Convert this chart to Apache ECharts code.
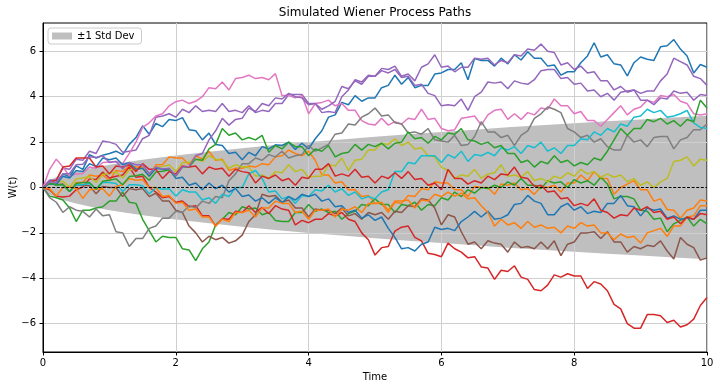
<!DOCTYPE html>
<html><head><meta charset="utf-8">
<script src="https://cdn.jsdelivr.net/npm/echarts/dist/echarts.min.js"></script>
<style>html,body{margin:0;padding:0;background:#fff}#c{width:720px;height:390px}</style>
</head><body><div id="c"></div>
<script>
const TIME = [
0,0.1,0.2,0.3,0.4,0.5,0.6,0.7,0.8,0.9,
1,1.1,1.2,1.3,1.4,1.5,1.6,1.7,1.8,1.9,
2,2.1,2.2,2.3,2.4,2.5,2.6,2.7,2.8,2.9,
3,3.1,3.2,3.3,3.4,3.5,3.6,3.7,3.8,3.9,
4,4.1,4.2,4.3,4.4,4.5,4.6,4.7,4.8,4.9,
5,5.1,5.2,5.3,5.4,5.5,5.6,5.7,5.8,5.9,
6,6.1,6.2,6.3,6.4,6.5,6.6,6.7,6.8,6.9,
7,7.1,7.2,7.3,7.4,7.5,7.6,7.7,7.8,7.9,
8,8.1,8.2,8.3,8.4,8.5,8.6,8.7,8.8,8.9,
9,9.1,9.2,9.3,9.4,9.5,9.6,9.7,9.8,9.9,
10];
const BAND_T  = [0,0.05,0.1,0.2,0.3,0.5,0.75,1,1.5,2,2.5,3,3.5,4,4.5,5,5.5,6,6.5,7,7.5,8,8.5,9,9.5,10];
const BAND_UP = [0,0.22,0.32,0.45,0.55,0.71,0.87,1.0,1.22,1.41,1.58,1.73,1.87,2.0,2.12,2.24,2.35,2.45,2.55,2.65,2.74,2.83,2.92,3.0,3.08,3.16];
const BAND_LO = [0,-0.22,-0.32,-0.45,-0.55,-0.71,-0.87,-1.0,-1.22,-1.41,-1.58,-1.73,-1.87,-2.0,-2.12,-2.24,-2.35,-2.45,-2.55,-2.65,-2.74,-2.83,-2.92,-3.0,-3.08,-3.16];
const Y_TICKS = [-6,-4,-2,0,2,4,6];
const ZERO_LEVEL = 0;

const P0 = [
0,0.3,0.18,0.6,0.48,0.95,0.8,1.45,1.3,1.42,
1.5,1.6,1.45,1.9,2.2,2.72,2.35,2.82,2.68,3.0,
2.95,3.08,2.55,2.5,2.1,2.4,1.9,1.85,1.5,1.55,
1.22,1.55,1.4,1.8,1.7,1.88,1.85,2.0,1.68,1.95,
1.7,2.15,2.5,3.1,3.2,3.75,3.65,4.05,3.8,3.95,
3.95,4.4,4.5,4.95,4.55,4.85,4.4,4.5,4.5,5.0,
5.05,5.2,5.2,5.5,4.75,5.68,5.6,5.6,5.35,5.7,
5.45,5.85,5.62,5.98,5.7,5.7,5.35,5.4,4.95,5.1,
5.1,5.5,5.8,6.38,5.75,5.85,5.45,5.4,4.92,5.5,
5.75,5.65,5.6,6.2,6.25,6.52,6.1,5.8,5.05,5.42,
5.3];
const P1 = [
0,0.22,0.12,0.12,-0.18,0.22,0.22,0.55,0.5,0.55,
0.3,0.75,0.7,0.95,0.9,0.9,0.5,1.0,1.0,1.35,
1.3,1.3,1.0,1.4,1.25,1.6,1.2,1.25,0.75,0.85,
0.85,0.95,0.9,1.05,1.0,1.35,1.4,1.65,1.5,1.4,
1.6,1.2,0.55,0.55,0.2,0.25,-0.1,-0.1,-0.4,-0.35,
-0.7,-0.7,-1.1,-0.65,-0.7,-0.35,-0.4,-0.05,-0.1,0.25,
0.2,0.2,-0.1,-0.1,-0.4,0.05,0.0,0.0,-0.3,0.15,
0.1,0.2,-0.1,-0.05,-0.3,0.05,0.0,0.1,-0.2,0.2,
0.2,0.55,0.3,0.7,0.4,0.4,-0.3,0.0,0.15,0.3,
-0.1,-0.1,-0.6,-0.5,-0.97,-1.0,-1.35,-1.0,-0.9,-0.55,
-0.6];
const P2 = [
0,-0.38,-0.45,-0.55,-0.9,-1.5,-1.0,-1.0,-0.9,-0.85,
-0.6,-0.6,-0.2,-0.65,-0.7,-1.4,-1.9,-2.4,-2.15,-2.2,
-2.2,-2.7,-2.75,-3.22,-2.7,-2.4,-1.65,-1.4,-1.1,-1.2,
-0.85,-0.95,-0.9,-1.2,-1.1,-1.45,-1.5,-1.5,-1.1,-1.1,
-0.75,-1.05,-0.95,-1.1,-1.05,-1.4,-1.15,-1.05,-0.75,-0.8,
-0.5,-0.75,-0.75,-1.1,-0.75,-0.8,-0.65,-1.0,-0.75,-0.8,
-0.45,-0.55,-0.2,-0.4,-0.1,-0.25,0.0,-0.05,0.1,0.0,
0.25,0.1,0.4,0.1,0.1,-0.05,0.3,0.2,0.25,0.0,
0.35,0.2,0.3,0.1,0.45,0.15,-0.5,-0.4,-0.4,-0.5,
-1.0,-1.05,-1.4,-1.35,-1.95,-1.6,-1.45,-1.3,-1.7,-1.4,
-1.6];
const P3 = [
0,-0.1,-0.38,-0.42,-0.38,-0.1,0.02,0.38,0.35,0.68,
0.42,0.5,0.55,0.9,0.45,0.5,0.0,-0.2,-0.45,-0.4,
-0.65,-0.6,-0.85,-0.8,-1.25,-1.25,-1.7,-1.38,-1.4,-1.05,
-1.1,-0.8,-1.1,-0.88,-1.15,-0.8,-0.95,-1.0,-1.65,-1.45,
-1.55,-1.4,-1.4,-1.15,-1.25,-1.1,-1.4,-1.5,-2.0,-2.3,
-2.98,-2.65,-2.6,-1.92,-1.75,-1.7,-2.2,-2.35,-2.9,-2.95,
-3.05,-2.45,-2.7,-2.85,-3.1,-3.05,-3.5,-3.55,-4.05,-3.65,
-3.7,-3.45,-3.95,-4.05,-4.5,-4.55,-4.3,-3.85,-3.95,-3.8,
-3.9,-3.9,-4.45,-4.15,-4.25,-4.55,-5.15,-5.35,-6.0,-6.2,
-6.2,-5.6,-5.6,-5.65,-5.95,-5.85,-6.15,-6.05,-5.8,-5.2,
-4.85];
const P4 = [
0,0.33,0.32,0.85,0.8,1.25,1.2,1.6,1.5,2.05,
2.0,1.9,1.55,1.6,1.65,2.15,2.3,3.1,3.15,3.25,
3.1,3.45,3.3,3.6,3.35,3.4,3.35,3.7,3.35,3.4,
3.3,3.6,3.3,3.4,3.35,3.7,3.7,4.1,4.1,4.1,
3.7,3.7,3.3,3.35,3.3,4.0,4.3,4.75,4.65,4.95,
4.9,5.25,5.2,5.35,4.9,5.0,4.7,5.3,5.45,5.85,
5.3,5.35,5.1,5.3,5.3,5.7,5.65,5.7,5.4,5.6,
5.5,5.85,5.8,6.1,6.05,6.32,6.0,5.95,5.4,5.5,
5.2,5.35,5.05,5.1,4.7,4.7,4.3,4.45,4.2,4.3,
4.15,4.25,4.25,4.7,5.0,5.7,5.55,5.4,4.9,4.8,
4.5];
const P5 = [
0,0.18,0.12,0.15,-0.18,0.12,0.1,0.08,-0.28,0.05,
0.0,0.0,-0.4,-0.05,-0.1,-0.05,-0.4,-0.25,-0.6,-0.6,
-1.0,-1.1,-1.7,-2.0,-2.4,-2.15,-2.3,-2.2,-2.45,-2.35,
-2.1,-1.5,-1.2,-0.3,-0.4,-0.35,-0.65,-0.55,-0.9,-0.9,
-1.3,-0.95,-1.0,-1.0,-1.15,-0.9,-1.25,-1.15,-1.4,-1.1,
-1.2,-1.1,-1.4,-1.05,-1.1,-0.8,-0.85,-0.5,-0.55,-0.9,
-1.65,-1.2,-1.3,-1.95,-2.5,-2.4,-2.7,-2.35,-2.45,-2.5,
-2.85,-2.4,-2.65,-2.6,-2.7,-2.4,-2.7,-2.35,-3.0,-2.5,
-2.4,-2.0,-2.0,-1.95,-2.25,-1.95,-2.4,-2.4,-2.85,-2.6,
-2.7,-2.55,-2.6,-2.35,-2.8,-3.15,-2.2,-2.5,-2.65,-3.2,
-3.1];
const P6 = [
0,0.8,1.25,0.9,0.5,0.6,0.62,0.9,0.85,1.1,
1.12,1.15,1.05,1.5,2.0,2.65,2.85,3.15,3.25,3.6,
3.78,3.85,3.7,3.8,4.0,4.4,4.35,4.65,4.3,4.8,
4.85,4.95,4.8,4.85,4.75,5.02,4.05,4.05,3.95,4.05,
3.25,3.7,3.75,3.85,3.6,3.7,3.4,3.4,2.95,2.8,
2.75,3.05,2.75,2.9,2.8,3.05,3.0,3.45,3.0,3.05,
2.6,2.5,2.55,3.05,3.1,3.15,2.75,3.2,3.4,3.45,
3.0,3.25,3.0,3.3,3.2,3.5,3.45,3.9,3.6,3.6,
3.25,3.35,2.95,2.95,2.7,3.0,3.3,3.6,3.2,3.45,
3.55,3.85,3.75,4.05,4.0,4.1,3.8,3.7,3.25,3.2,
3.25];
const P7 = [
0,-0.45,-0.65,-1.1,-0.85,-1.0,-1.05,-1.3,-0.95,-1.25,
-1.2,-1.95,-2.0,-2.6,-2.25,-2.25,-1.8,-1.7,-1.35,-1.35,
-1.05,-1.1,-0.8,-0.9,-0.6,-0.7,-0.4,-0.45,0.3,0.6,
1.05,1.05,1.3,1.2,1.45,1.35,1.6,1.3,1.4,1.45,
1.85,1.6,1.75,1.9,2.35,2.4,2.8,2.75,3.1,3.25,
3.5,3.15,3.2,2.85,2.8,2.4,2.45,2.35,2.6,2.1,
2.05,2.0,2.3,1.85,1.9,2.25,2.9,2.45,2.45,2.2,
2.3,1.85,2.3,2.5,3.05,3.25,3.55,3.45,3.3,2.6,
2.45,2.2,2.3,2.0,2.15,1.8,1.65,1.65,2.3,2.0,
2.1,1.8,2.2,2.25,2.25,1.7,2.1,2.2,2.55,2.55,
2.8];
const P8 = [
0,0.22,0.22,0.28,0.02,0.38,0.42,0.48,0.22,0.58,
0.62,0.68,0.42,0.78,0.82,0.85,0.5,0.9,0.92,1.0,
0.7,1.1,1.1,1.25,1.15,1.4,1.25,1.2,0.85,1.0,
0.9,0.9,0.5,0.55,0.4,0.7,0.65,1.0,0.7,0.8,
0.45,0.5,0.5,1.0,0.95,1.3,0.75,1.2,1.25,1.65,
1.65,1.95,1.9,2.15,1.85,2.0,1.7,1.75,1.4,1.35,
0.9,0.75,0.4,0.55,0.5,0.8,0.4,0.6,0.65,1.0,
0.5,0.55,0.45,0.7,0.3,0.4,0.25,0.5,0.4,0.65,
0.5,0.8,0.6,0.7,0.45,0.6,0.45,0.55,0.25,0.4,
0.1,0.25,0.0,0.25,0.4,1.15,1.2,1.35,0.95,1.25,
1.2];
const P9 = [
0,0.18,0.12,0.12,-0.18,0.12,0.12,0.18,-0.08,0.22,
0.22,0.18,-0.18,0.12,0.12,0.08,-0.28,0.0,-0.08,-0.05,
-0.38,-0.1,-0.2,-0.2,-0.55,-0.45,-0.7,-0.3,-0.4,0.0,
0.0,0.6,0.75,0.4,-0.2,-0.15,-0.5,-0.4,-0.7,-0.35,
-0.4,-0.1,-0.15,0.1,-0.2,-0.05,-0.35,-0.2,-0.5,-0.4,
-0.5,-0.2,-0.1,0.7,0.7,1.1,1.05,1.4,1.4,1.4,
1.1,1.45,1.3,1.6,1.15,1.45,1.4,1.55,1.4,1.75,
1.65,1.8,1.5,1.85,1.75,2.0,1.6,1.75,1.5,1.85,
1.85,2.15,2.1,2.45,2.3,2.6,2.45,2.8,2.7,3.1,
3.15,3.45,3.3,3.4,3.1,3.15,3.25,3.4,2.85,2.65,
2.6];
const P10 = [
0,0.18,0.12,0.5,0.42,0.75,0.7,1.05,0.92,1.3,
1.22,1.3,1.0,1.1,0.8,0.85,0.5,0.85,0.8,0.8,
0.4,0.45,0.1,0.2,-0.1,0.2,-0.05,0.1,-0.2,-0.05,
-0.4,-0.33,-0.6,-0.45,-0.7,-0.45,-0.67,-0.4,-0.55,-0.3,
-0.4,-0.3,-0.6,-0.5,-0.85,-0.8,-1.1,-1.0,-1.35,-1.2,
-1.45,-1.3,-1.8,-2.2,-2.7,-2.65,-2.8,-2.5,-2.4,-1.75,
-1.85,-1.8,-1.9,-1.5,-1.3,-1.05,-1.3,-1.05,-1.4,-1.35,
-1.2,-0.75,-0.7,-0.35,-0.6,-0.7,-1.2,-1.2,-0.85,-0.7,
-1.0,-0.85,-1.15,-1.05,-1.1,-0.7,-0.7,-0.35,-0.8,-0.85,
-1.25,-0.9,-1.0,-0.95,-1.35,-1.25,-1.4,-1.35,-1.4,-1.0,
-1.0];
const P11 = [
0,-0.05,-0.38,0.0,0.02,-0.05,-0.48,-0.1,-0.08,-0.05,
-0.38,0.05,0.12,0.4,0.32,0.35,0.0,0.0,-0.4,-0.35,
-0.7,-0.65,-1.0,-0.95,-1.3,-1.3,-1.7,-1.4,-1.5,-1.1,
-1.1,-1.0,-1.3,-0.9,-0.9,-0.6,-0.7,-0.7,-1.1,-1.05,
-1.4,-1.0,-1.0,-0.95,-1.3,-0.95,-1.0,-0.85,-1.1,-0.7,
-0.7,-0.65,-1.0,-0.6,-0.6,-0.55,-0.9,-0.55,-0.6,-0.3,
-0.4,-0.2,-0.38,-0.25,-0.5,-0.45,-0.8,-1.1,-1.7,-1.4,
-1.65,-1.55,-1.8,-1.5,-1.75,-1.65,-1.8,-1.75,-2.0,-1.7,
-1.8,-1.55,-1.7,-1.65,-2.0,-2.0,-2.3,-2.05,-2.2,-2.15,
-2.45,-2.0,-1.9,-1.8,-2.15,-1.7,-1.7,-1.3,-1.25,-0.8,
-0.8];
const P12 = [
0,0.18,0.12,0.12,-0.18,0.18,0.22,0.22,-0.08,0.28,
0.32,0.38,0.12,0.48,0.52,0.58,0.32,0.68,0.72,0.78,
0.5,0.9,0.9,1.25,1.2,1.7,1.9,2.6,2.3,2.4,
2.1,2.2,2.1,2.3,1.55,1.85,1.7,2.0,1.8,1.8,
1.4,1.7,1.6,1.85,1.35,1.5,1.55,1.9,1.65,1.9,
1.8,1.95,1.7,1.95,2.0,2.45,2.15,2.2,1.95,2.25,
2.1,2.4,2.35,2.6,2.1,2.05,1.9,2.0,1.75,1.85,
1.5,1.5,1.1,1.2,0.9,1.15,1.05,1.4,1.1,1.2,
0.95,1.1,1.0,1.3,1.2,1.6,2.1,2.6,2.3,2.6,
2.6,3.0,2.9,3.05,2.8,2.95,2.7,3.0,2.9,3.85,
3.5];
const P13 = [
0,0.25,0.32,0.9,0.95,1.3,1.3,1.3,0.9,0.95,
0.6,0.95,0.9,1.0,0.7,1.05,0.8,0.8,0.4,0.7,
0.6,0.95,0.9,0.95,0.6,0.9,0.8,0.85,0.5,0.8,
0.7,0.65,0.2,0.5,0.4,0.55,0.3,0.4,0.1,0.45,
0.4,0.8,0.8,1.05,0.5,0.6,0.5,0.8,0.45,0.5,
0.2,0.5,0.4,0.65,0.4,0.7,0.35,0.4,0.1,0.2,
-0.1,0.8,0.4,0.4,0.15,0.3,0.2,0.5,0.35,0.6,
0.55,0.9,0.45,0.4,0.05,0.1,-0.2,-0.15,-0.5,-0.45,
-0.8,-0.7,-0.8,-0.5,-1.0,-1.1,-1.35,-1.2,-1.25,-0.9,
-1.0,-0.85,-1.1,-1.05,-1.4,-1.3,-1.6,-1.3,-1.4,-1.15,
-1.2];
const P14 = [
0,0.25,0.22,0.6,0.62,1.0,1.02,1.35,1.32,1.4,
1.1,1.15,0.82,1.1,1.0,1.0,0.62,0.9,0.82,0.85,
0.52,0.9,0.92,1.4,1.5,2.1,2.5,3.05,2.75,3.0,
3.05,3.5,3.35,3.7,3.6,3.95,3.9,4.15,4.0,3.95,
3.65,3.7,3.45,3.6,3.8,4.45,4.35,4.7,4.55,4.9,
4.9,5.15,5.05,5.2,4.85,4.9,4.5,4.55,4.15,4.05,
3.6,3.65,3.6,3.9,3.4,4.0,4.2,4.65,4.6,4.65,
4.35,4.7,4.6,4.55,4.75,5.15,5.2,5.2,4.8,4.85,
4.55,4.6,4.25,4.3,4.0,4.15,3.85,4.2,4.25,4.3,
3.85,3.85,3.65,3.95,3.9,4.25,4.15,4.2,3.85,4.1,
4.05];

const PATHS = [P0,P1,P2,P3,P4,P5,P6,P7,P8,P9,P10,P11,P12,P13,P14];
const COLORS = ['#1f77b4','#ff7f0e','#2ca02c','#d62728','#9467bd','#8c564b','#e377c2','#7f7f7f','#bcbd22','#17becf'];
const FONT = 'DejaVu Sans';
const BAND_NAME = '\u00b11 Std Dev';

PATHS.forEach((p,k)=>{ if (p.length !== TIME.length) console.error('path', k, 'length', p.length); });

const fmt = v => (v < 0 ? '\u2212' : '') + Math.abs(v);

const series = [];
[BAND_UP, BAND_LO].forEach(arr => {
  series.push({
    name: BAND_NAME, type: 'line', silent: true, symbol: 'none', z: -1,
    data: BAND_T.map((t, i) => [t, arr[i]]),
    lineStyle: { opacity: 0, width: 0 },
    itemStyle: { color: '#bfbfbf' },
    areaStyle: { color: '#bfbfbf', opacity: 1 }
  });
});
PATHS.forEach((p, k) => {
  const c = COLORS[k % COLORS.length];
  series.push({
    name: 'path' + k, type: 'line', silent: true, symbol: 'none', z: 2,
    data: TIME.map((t, i) => [t, p[i]]),
    lineStyle: { width: 1.5, color: c },
    itemStyle: { color: c }
  });
});
series[series.length - 1].markLine = {
  silent: true, symbol: 'none', label: { show: false },
  lineStyle: { color: '#000', width: 1, type: [3, 1.6] },
  data: [{ yAxis: ZERO_LEVEL }]
};

const axisCommon = {
  axisLine: { show: true, onZero: false, lineStyle: { color: '#000', width: 1 } },
  axisTick: { show: true, length: 3.5, lineStyle: { color: '#000', width: 1 } },
  splitLine: { show: true, lineStyle: { color: '#cfcfcf', width: 1 } },
  nameMoveOverlap: false,
  nameTextStyle: { fontSize: 10, color: '#000', fontFamily: FONT }
};

const option = {
  animation: false,
  backgroundColor: '#fff',
  title: {
    text: 'Simulated Wiener Process Paths', left: 375, top: 7, padding: 0, textAlign: 'center',
    textStyle: { fontSize: 12, fontWeight: 'normal', color: '#000', fontFamily: FONT }
  },
  legend: {
    left: 48, top: 28, padding: [3, 7, 3, 4], itemWidth: 20, itemHeight: 7,
    selectedMode: false,
    backgroundColor: 'rgba(255,255,255,0.8)', borderColor: '#cccccc', borderWidth: 1, borderRadius: 3,
    textStyle: { fontSize: 10, color: '#000', fontFamily: FONT },
    itemStyle: { color: '#bfbfbf' },
    data: [{ name: BAND_NAME, icon: 'rect' }]
  },
  grid: { left: 43, right: 13, top: 23, bottom: 38, show: true, borderColor: '#000', borderWidth: 1,
          backgroundColor: 'transparent', containLabel: false, outerBoundsMode: 'none' },
  xAxis: Object.assign({}, axisCommon, {
    type: 'value', min: 0, max: 10, interval: 2,
    name: 'Time', nameLocation: 'middle', nameGap: 20,
    axisLabel: { fontSize: 10, color: '#000', margin: 6, fontFamily: FONT, formatter: fmt }
  }),
  yAxis: Object.assign({}, axisCommon, {
    type: 'value', min: -7.25, max: 7.25, splitNumber: 7,
    name: 'W(t)', nameLocation: 'middle', nameGap: 25,
    axisTick: { show: true, length: 3.5, customValues: Y_TICKS, lineStyle: { color: '#000', width: 1 } },
    axisLabel: { fontSize: 10, color: '#000', margin: 7, fontFamily: FONT, formatter: fmt, customValues: Y_TICKS }
  }),
  series: series
};

const chart = echarts.init(document.getElementById('c'), null, { renderer: 'canvas' });
chart.setOption(option);
</script>
</body></html>
